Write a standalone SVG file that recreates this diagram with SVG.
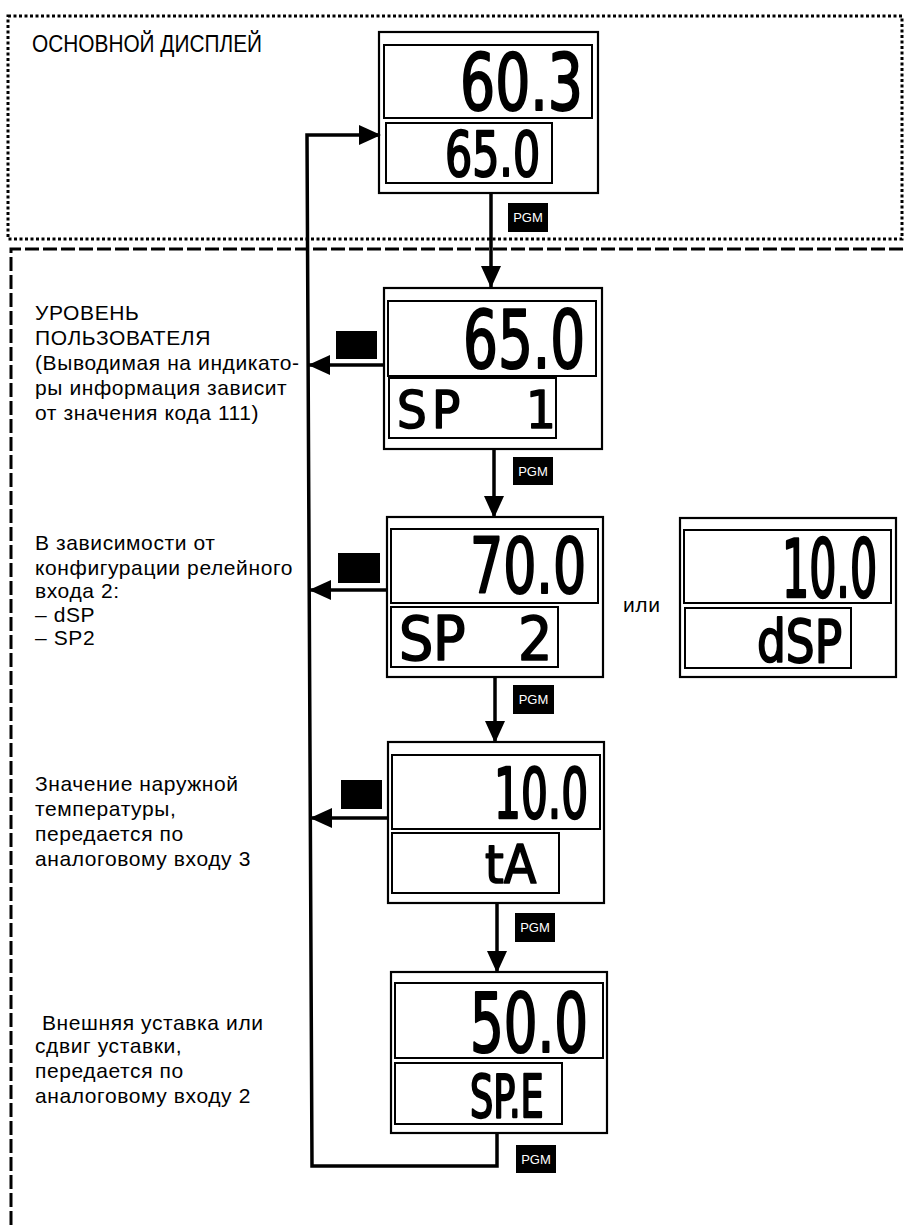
<svg xmlns="http://www.w3.org/2000/svg" width="904" height="1225" viewBox="0 0 904 1225">
<style>
.bg{fill:#fff}
.frame{fill:none;stroke:#000;stroke-width:2.2}
.win{fill:none;stroke:#000;stroke-width:2}
.seg{font-family:"DejaVu Sans Condensed","Liberation Sans Narrow","Liberation Sans",sans-serif;font-weight:normal;fill:#000;stroke:#000;stroke-width:1.6;stroke-linejoin:round}
.lbl{font-family:"Liberation Sans",Arial,sans-serif;font-size:21px;fill:#000;letter-spacing:0.6px}
.key{fill:#000}
.keyt{font-family:"Liberation Sans",Arial,sans-serif;font-size:13px;fill:#fff;text-anchor:middle}
.line{fill:none;stroke:#000;stroke-width:3.5}
.dot{fill:none;stroke:#000;stroke-width:3;stroke-dasharray:3 2.5}
.dash{fill:none;stroke:#000;stroke-width:3;stroke-dasharray:14 4}
</style>
<defs>
<marker id="ah" markerUnits="userSpaceOnUse" markerWidth="22" markerHeight="22" viewBox="0 0 22 22" refX="21" refY="11" orient="auto">
<path d="M0 1 L22 11 L0 21 Z" fill="#000"/>
</marker>
</defs>
<rect class="bg" x="0" y="0" width="904" height="1225"/>

<g id="regions">
<rect class="dot" x="8" y="16" width="894" height="223"/>
<path class="dash" d="M11 1225 V249 H904"/>
</g>

<g id="texts">
<text x="32" y="52" font-family="Liberation Sans, Arial, sans-serif" font-size="24" textLength="230" lengthAdjust="spacingAndGlyphs">ОСНОВНОЙ ДИСПЛЕЙ</text>
<text class="lbl" x="35" y="320">УРОВЕНЬ</text>
<text class="lbl" x="35" y="345">ПОЛЬЗОВАТЕЛЯ</text>
<text class="lbl" x="35" y="370">(Выводимая на индикато-</text>
<text class="lbl" x="35" y="395">ры информация зависит</text>
<text class="lbl" x="35" y="420">от значения кода 111)</text>
<text class="lbl" x="35" y="550">В зависимости от</text>
<text class="lbl" x="35" y="575">конфигурации релейного</text>
<text class="lbl" x="35" y="598">входа 2:</text>
<text class="lbl" x="35" y="622">– dSP</text>
<text class="lbl" x="35" y="645">– SP2</text>
<text class="lbl" x="35" y="791">Значение наружной</text>
<text class="lbl" x="35" y="816">температуры,</text>
<text class="lbl" x="35" y="841">передается по</text>
<text class="lbl" x="35" y="866">аналоговому входу 3</text>
<text class="lbl" x="42" y="1030">Внешняя уставка или</text>
<text class="lbl" x="35" y="1053">сдвиг уставки,</text>
<text class="lbl" x="35" y="1078">передается по</text>
<text class="lbl" x="35" y="1103">аналоговому входу 2</text>
<text class="lbl" x="623" y="612">или</text>
</g>

<g id="connectors">
<path class="line" d="M497 1133 V1166 H312 L307 135 H380" marker-end="url(#ah)"/>
<path class="line" d="M491 193 V287" marker-end="url(#ah)"/>
<path class="line" d="M494 449 V517" marker-end="url(#ah)"/>
<path class="line" d="M495 677 V742" marker-end="url(#ah)"/>
<path class="line" d="M497 903 V972" marker-end="url(#ah)"/>
<path class="line" d="M384 365 H309" marker-end="url(#ah)"/>
<path class="line" d="M387 590 H310" marker-end="url(#ah)"/>
<path class="line" d="M388 818 H311" marker-end="url(#ah)"/>
</g>

<g id="display-main">
<rect class="frame" x="379" y="32" width="219" height="161"/>
<rect class="win" x="384" y="45" width="208" height="73"/>
<rect class="win" x="386" y="123" width="166" height="60"/>
<text class="seg" transform="translate(460 110) scale(1 1.27)" font-size="61.4">60.3</text>
<text class="seg" transform="translate(445 176) scale(1 1.31)" font-size="47.5">65.0</text>
</g>

<g id="display-sp1">
<rect class="frame" x="384" y="288" width="218" height="161"/>
<rect class="win" x="388" y="301" width="208" height="75"/>
<rect class="win" x="389" y="378" width="167" height="60"/>
<text class="seg" transform="translate(463 368) scale(1 1.31)" font-size="61">65.0</text>
<text class="seg" x="397 432 470 526" y="428" font-size="52">SP 1</text>
</g>

<g id="display-sp2">
<rect class="frame" x="387" y="517" width="216" height="160"/>
<rect class="win" x="391" y="529" width="207" height="74"/>
<rect class="win" x="391" y="607" width="167" height="60"/>
<text class="seg" transform="translate(470 593) scale(1 1.31)" font-size="58">70.0</text>
<text class="seg" x="399 433 480 518" y="660" font-size="60">SP 2</text>
</g>

<g id="display-dsp">
<rect class="frame" x="680" y="518" width="216" height="159"/>
<rect class="win" x="684" y="530" width="207" height="73"/>
<rect class="win" x="685" y="608" width="166" height="60"/>
<text class="seg" transform="translate(782 597) scale(1 1.68)" font-size="47.5">10.0</text>
<text class="seg" transform="translate(757 662) scale(1 1.15)" font-size="50.5">dSP</text>
</g>

<g id="display-ta">
<rect class="frame" x="388" y="742" width="216" height="161"/>
<rect class="win" x="392" y="755" width="208" height="74"/>
<rect class="win" x="392" y="833" width="167" height="60"/>
<text class="seg" transform="translate(494 818) scale(1 1.49)" font-size="47">10.0</text>
<text class="seg" x="485" y="883" font-size="53">tA</text>
</g>

<g id="display-spe">
<rect class="frame" x="391" y="972" width="216" height="161"/>
<rect class="win" x="395" y="983" width="208" height="75"/>
<rect class="win" x="395" y="1063" width="167" height="61"/>
<text class="seg" transform="translate(470 1052) scale(1 1.39)" font-size="59">50.0</text>
<text class="seg" transform="translate(470 1117) scale(1 1.425)" font-size="40.7">SP.E</text>
</g>

<g id="keys-pgm">
<rect class="key" x="508" y="203" width="40" height="29"/><text class="keyt" x="528" y="222">PGM</text>
<rect class="key" x="513" y="457" width="40" height="28"/><text class="keyt" x="533" y="476">PGM</text>
<rect class="key" x="513" y="685" width="41" height="29"/><text class="keyt" x="533.5" y="704">PGM</text>
<rect class="key" x="515" y="913" width="40" height="29"/><text class="keyt" x="535" y="932">PGM</text>
<rect class="key" x="516" y="1145" width="40" height="28"/><text class="keyt" x="536" y="1164">PGM</text>
</g>

<g id="keys-exit">
<rect class="key" x="336" y="331" width="41" height="28"/>
<rect class="key" x="338" y="553" width="42" height="30"/>
<rect class="key" x="341" y="780" width="41" height="29"/>
</g>
</svg>
